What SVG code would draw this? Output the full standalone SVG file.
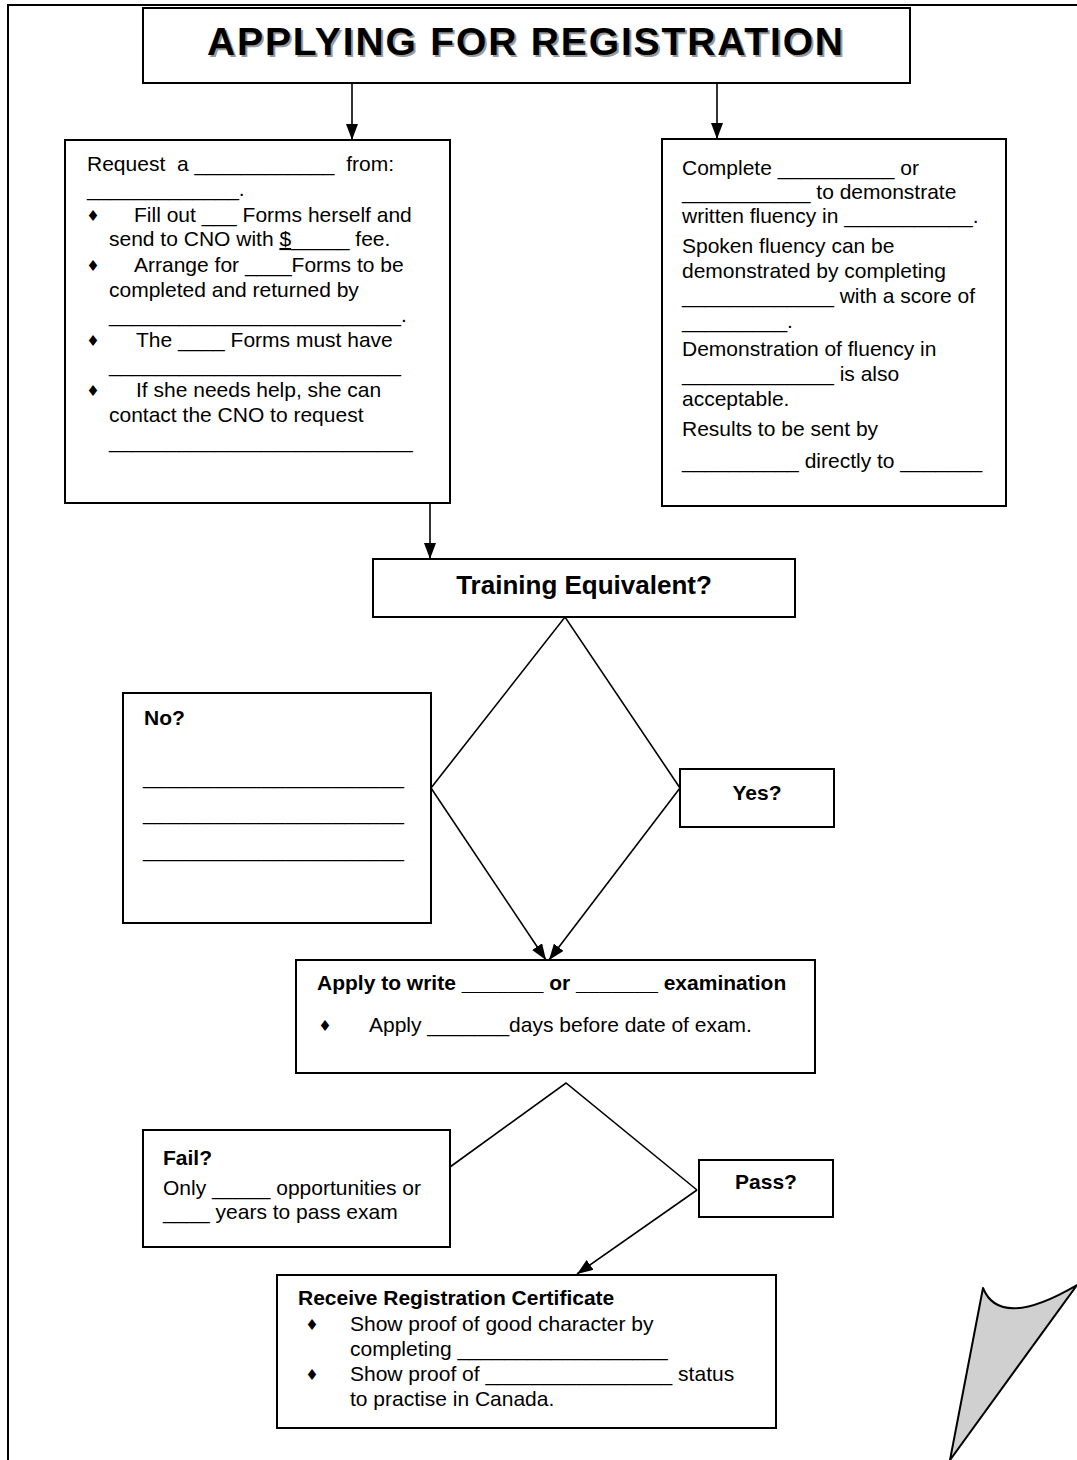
<svg xmlns="http://www.w3.org/2000/svg" width="1077" height="1460" viewBox="0 0 1077 1460">
<style>
  .box{fill:#fff;stroke:#000;stroke-width:2}
  .ln{fill:none;stroke:#000;stroke-width:1.6}
  .t{font-family:"Liberation Sans",Arial,sans-serif;font-size:21px;fill:#000;white-space:pre}
  .b{font-weight:bold}
  .bul{font-family:"DejaVu Sans",sans-serif;font-size:15px;fill:#000;text-anchor:middle}
</style>
<defs>
  <marker id="arr" viewBox="0 0 16 12" refX="16" refY="6" markerWidth="16" markerHeight="12" markerUnits="userSpaceOnUse" orient="auto">
    <path d="M0,0 L16,6 L0,12 z" fill="#000"/>
  </marker>
</defs>
<rect width="1077" height="1460" fill="#fff"/>
<g id="page-border">
  <path d="M8,1460 L8,5 L1077,5" fill="none" stroke="#000" stroke-width="2"/>
</g>

<g id="title">
  <rect class="box" x="143" y="8" width="767" height="75"/>
  <text x="527" y="57" text-anchor="middle" font-family="'Liberation Sans',Arial,sans-serif" font-weight="bold" font-size="39" fill="#999" textLength="636" lengthAdjust="spacing">APPLYING FOR REGISTRATION</text>
  <text x="525" y="55" text-anchor="middle" font-family="'Liberation Sans',Arial,sans-serif" font-weight="bold" font-size="39" fill="#000" textLength="636" lengthAdjust="spacing">APPLYING FOR REGISTRATION</text>
</g>

<g id="request-box">
  <rect class="box" x="65" y="140" width="385" height="363"/>
  <text class="t" x="87" y="171">Request  a ____________  from:</text>
  <text class="t" x="87" y="196">_____________.</text>
  <text class="bul" x="93" y="221">♦</text>
  <text class="t" x="134" y="222">Fill out ___ Forms herself and</text>
  <text class="t" x="109" y="246">send to CNO with <tspan text-decoration="underline">$</tspan>_____ fee.</text>
  <text class="bul" x="93" y="271">♦</text>
  <text class="t" x="134" y="272">Arrange for ____Forms to be</text>
  <text class="t" x="109" y="297">completed and returned by</text>
  <text class="t" x="109" y="322">_________________________.</text>
  <text class="bul" x="93" y="346">♦</text>
  <text class="t" x="136" y="347">The ____ Forms must have</text>
  <text class="t" x="109" y="372">_________________________</text>
  <text class="bul" x="93" y="396">♦</text>
  <text class="t" x="136" y="397">If she needs help, she can</text>
  <text class="t" x="109" y="422">contact the CNO to request</text>
  <text class="t" x="109" y="448">__________________________</text>
</g>

<g id="fluency-box">
  <rect class="box" x="662" y="139" width="344" height="367"/>
  <text class="t" x="682" y="175">Complete __________ or</text>
  <text class="t" x="682" y="199">___________ to demonstrate</text>
  <text class="t" x="682" y="223">written fluency in ___________.</text>
  <text class="t" x="682" y="253">Spoken fluency can be</text>
  <text class="t" x="682" y="278">demonstrated by completing</text>
  <text class="t" x="682" y="303">_____________ with a score of</text>
  <text class="t" x="682" y="328">_________.</text>
  <text class="t" x="682" y="356">Demonstration of fluency in</text>
  <text class="t" x="682" y="381">_____________ is also</text>
  <text class="t" x="682" y="406">acceptable.</text>
  <text class="t" x="682" y="436">Results to be sent by</text>
  <text class="t" x="682" y="468">__________ directly to _______</text>
</g>

<g id="training-box">
  <rect class="box" x="373" y="559" width="422" height="58"/>
  <text class="t b" x="584" y="594" text-anchor="middle" style="font-size:26px">Training Equivalent?</text>
</g>

<g id="no-box">
  <rect class="box" x="123" y="693" width="308" height="230"/>
  <text class="t b" x="144" y="725">No?</text>
  <text class="t" x="143" y="784" textLength="261">______________________</text>
  <text class="t" x="143" y="820" textLength="261">______________________</text>
  <text class="t" x="143" y="857" textLength="261">______________________</text>
</g>

<g id="yes-box">
  <rect class="box" x="680" y="769" width="154" height="58"/>
  <text class="t b" x="757" y="800" text-anchor="middle">Yes?</text>
</g>

<g id="apply-box">
  <rect class="box" x="296" y="960" width="519" height="113"/>
  <text class="t b" x="317" y="990">Apply to write _______ or _______ examination</text>
  <text class="bul" x="325" y="1031">♦</text>
  <text class="t" x="369" y="1032">Apply _______days before date of exam.</text>
</g>

<g id="fail-box">
  <rect class="box" x="143" y="1130" width="307" height="117"/>
  <text class="t b" x="163" y="1165">Fail?</text>
  <text class="t" x="163" y="1195">Only _____ opportunities or</text>
  <text class="t" x="163" y="1219">____ years to pass exam</text>
</g>

<g id="pass-box">
  <rect class="box" x="699" y="1160" width="134" height="57"/>
  <text class="t b" x="766" y="1189" text-anchor="middle">Pass?</text>
</g>

<g id="certificate-box">
  <rect class="box" x="277" y="1275" width="499" height="153"/>
  <text class="t b" x="298" y="1305">Receive Registration Certificate</text>
  <text class="bul" x="312" y="1330">♦</text>
  <text class="t" x="350" y="1331">Show proof of good character by</text>
  <text class="t" x="350" y="1356">completing __________________</text>
  <text class="bul" x="312" y="1380">♦</text>
  <text class="t" x="350" y="1381">Show proof of ________________ status</text>
  <text class="t" x="350" y="1406">to practise in Canada.</text>
</g>

<g id="connectors">
  <line class="ln" x1="352" y1="83" x2="352" y2="140" marker-end="url(#arr)"/>
  <line class="ln" x1="717" y1="83" x2="717" y2="139" marker-end="url(#arr)"/>
  <line class="ln" x1="430" y1="503" x2="430" y2="559" marker-end="url(#arr)"/>
  <polyline class="ln" points="431,788 565,617 680,788"/>
  <line class="ln" x1="431" y1="788" x2="546" y2="960" marker-end="url(#arr)"/>
  <line class="ln" x1="680" y1="788" x2="549" y2="960" marker-end="url(#arr)"/>
  <polyline class="ln" points="450,1167 566,1083 697,1190"/>
  <line class="ln" x1="697" y1="1190" x2="577" y2="1274" marker-end="url(#arr)"/>
</g>

<g id="page-curl">
  <path d="M983,1288 Q1000,1330 1077,1285 L950,1460 Z" fill="#d0d0d0" stroke="#000" stroke-width="2" stroke-linejoin="round"/>
</g>
</svg>
